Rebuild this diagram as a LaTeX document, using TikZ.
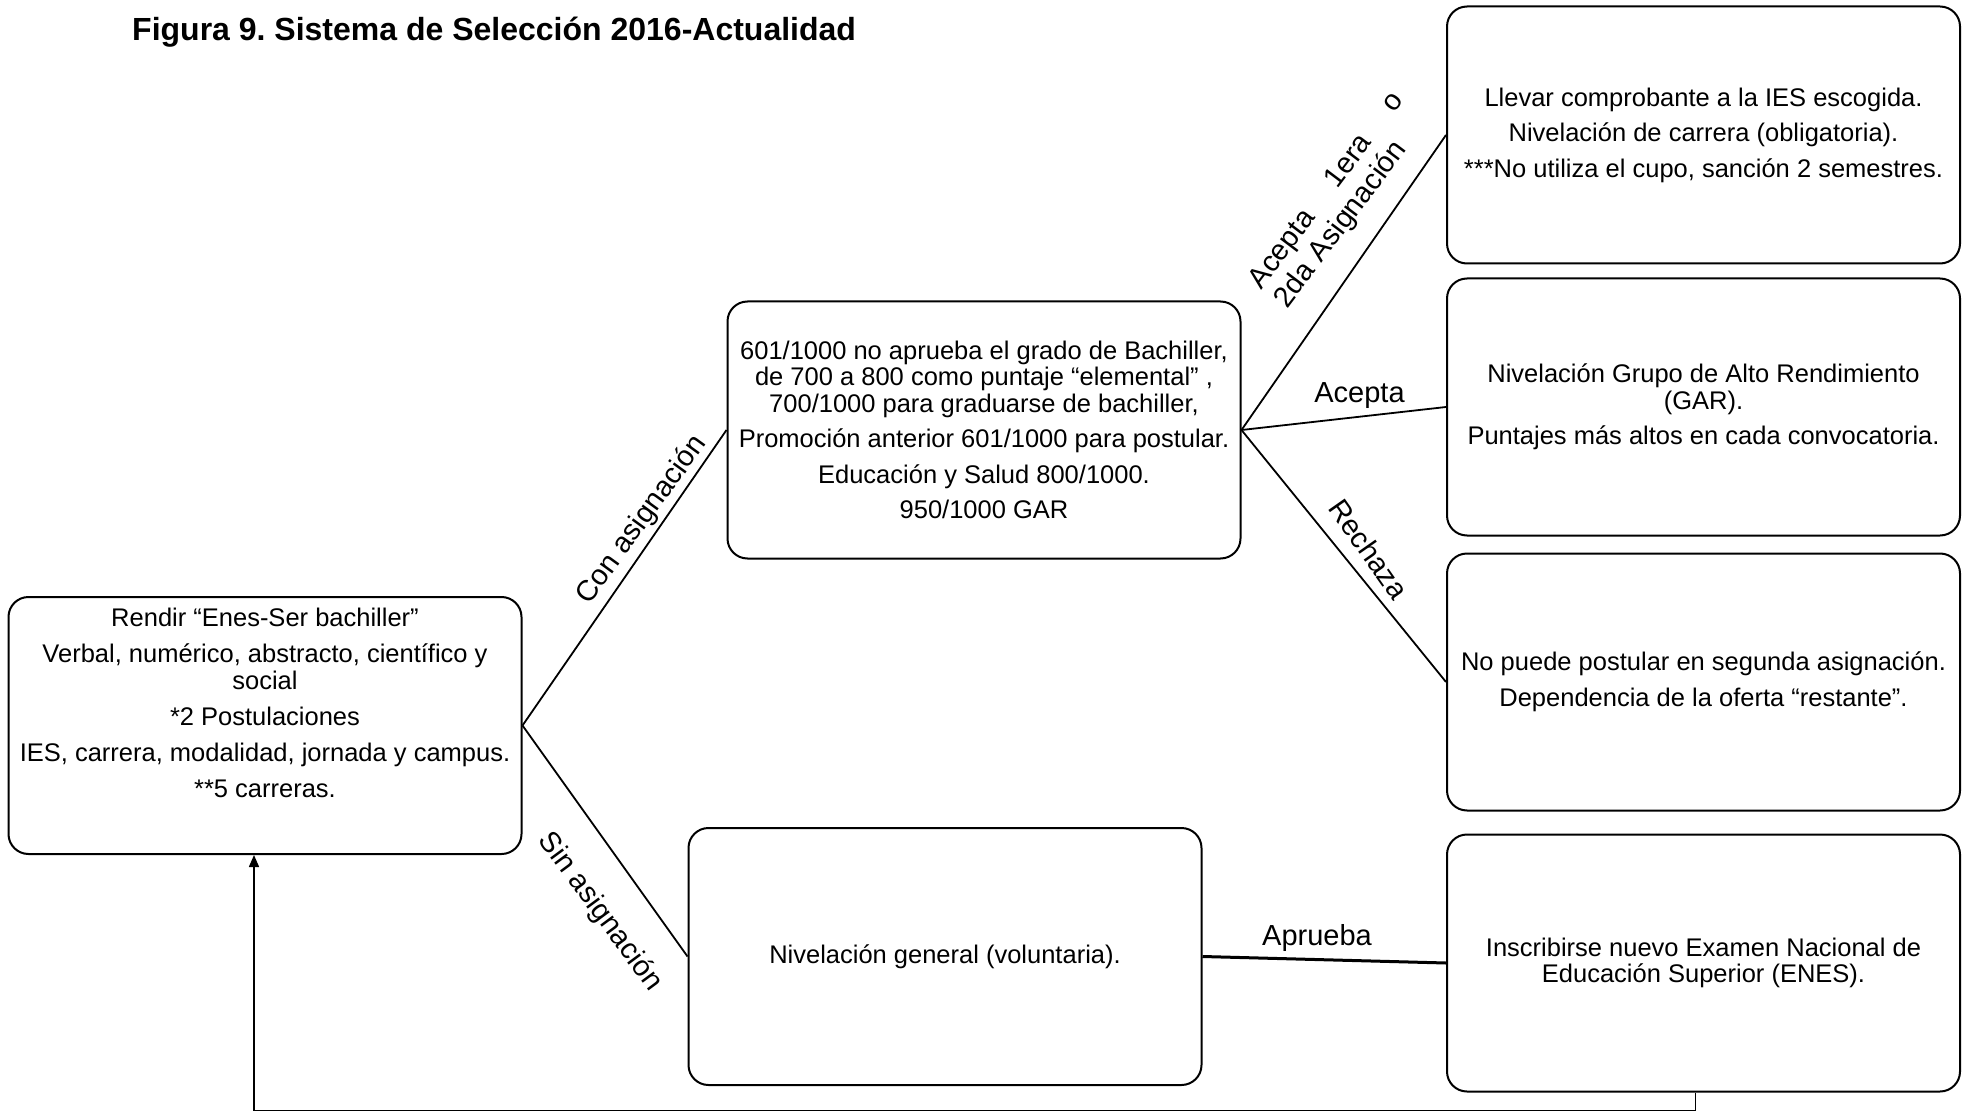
\documentclass[tikz,border=0pt]{standalone}
\usepackage{fontspec}
\setmainfont{Liberation Sans}
\usetikzlibrary{arrows.meta}
\frenchspacing
\begin{document}
\begin{tikzpicture}[x=1pt,y=-1pt,
  box/.style={draw, line width=2pt, rounded corners=20pt, minimum width=513pt, minimum height=257pt, inner sep=0pt,
    font=\fontsize{25.5}{26.5}\selectfont, align=center},
  btext/.style={font=\fontsize{25.5}{26.5}\selectfont, align=center, inner sep=0pt},
  lbl/.style={font=\fontsize{29}{32}\selectfont, inner sep=0pt},
  conn/.style={line width=1.8pt},
  back/.style={line width=1.5pt, -{Triangle[width=10pt,length=12pt]}}
]
\useasboundingbox (0,0) rectangle (1970,1115);
\fill[white] (0,0) rectangle (1970,1115);

\node[font=\bfseries\fontsize{32}{36}\selectfont, anchor=base west, inner sep=0pt] (title) at (132,41)
  {Figura 9. Sistema de Selección 2016-Actualidad};

% boxes
\node[box] (A) at (265,725.5) {};
\node[btext] (At) at (265,703)
  {Rendir “Enes-Ser bachiller”\\[9.5pt]
   Verbal, numérico, abstracto, científico y\\ social\\[9.5pt]
   *2 Postulaciones\\[9.5pt]
   IES, carrera, modalidad, jornada y campus.\\[9.5pt]
   **5 carreras.};

\node[box] (B) at (984,430)
  {601/1000 no aprueba el grado de Bachiller,\\
   de 700 a 800 como puntaje “elemental” ,\\
   700/1000 para graduarse de bachiller,\\[9pt]
   Promoción anterior 601/1000 para postular.\\[9pt]
   Educación y Salud 800/1000.\\[9pt]
   950/1000 GAR};

\node[box] (C) at (1703.5,135)
  {Llevar comprobante a la IES escogida.\\[9pt]
   Nivelación de carrera (obligatoria).\\[9pt]
   ***No utiliza el cupo, sanción 2 semestres.};

\node[box] (D) at (1703.5,407)
  {Nivelación Grupo de Alto Rendimiento\\ (GAR).\\[9pt]
   Puntajes más altos en cada convocatoria.};

\node[box] (E) at (1703.5,682)
  {No puede postular en segunda asignación.\\[9pt]
   Dependencia de la oferta “restante”.};

\node[box] (F) at (945,956.5)
  {Nivelación general (voluntaria).};

\node[box] (G) at (1703.5,963)
  {Inscribirse nuevo Examen Nacional de\\ Educación Superior (ENES).};

% connectors
\draw[conn] (A.east) -- (B.west);
\draw[conn] (A.east) -- (F.west);
\draw[conn] (B.east) -- (C.west);
\draw[conn] (B.east) -- (D.west);
\draw[conn] (B.east) -- (E.west);
\draw[conn, line width=3pt] (F.east) -- (G.west);
\draw[back] ([xshift=-8pt]G.south) -- ++(0,18) -| ([xshift=-11pt]A.south);

% labels
\node[lbl, rotate=54] (lcon) at (642,520) {Con asignación};
\node[lbl, rotate=-53.5] (lsin) at (600,912) {Sin asignación};
\node[lbl, rotate=-55] (lrech) at (1369,549) {Rechaza};
\node[lbl] (lacep) at (1359.5,396) {Acepta};
\node[lbl] (lapr) at (1317,937.5) {Aprueba};
\node[lbl, rotate=53, text width=237pt, align=left] (lacep1) at (1340,201)
  {Acepta\hfill 1era\hfill o\\2da Asignación};
\end{tikzpicture}
\end{document}
